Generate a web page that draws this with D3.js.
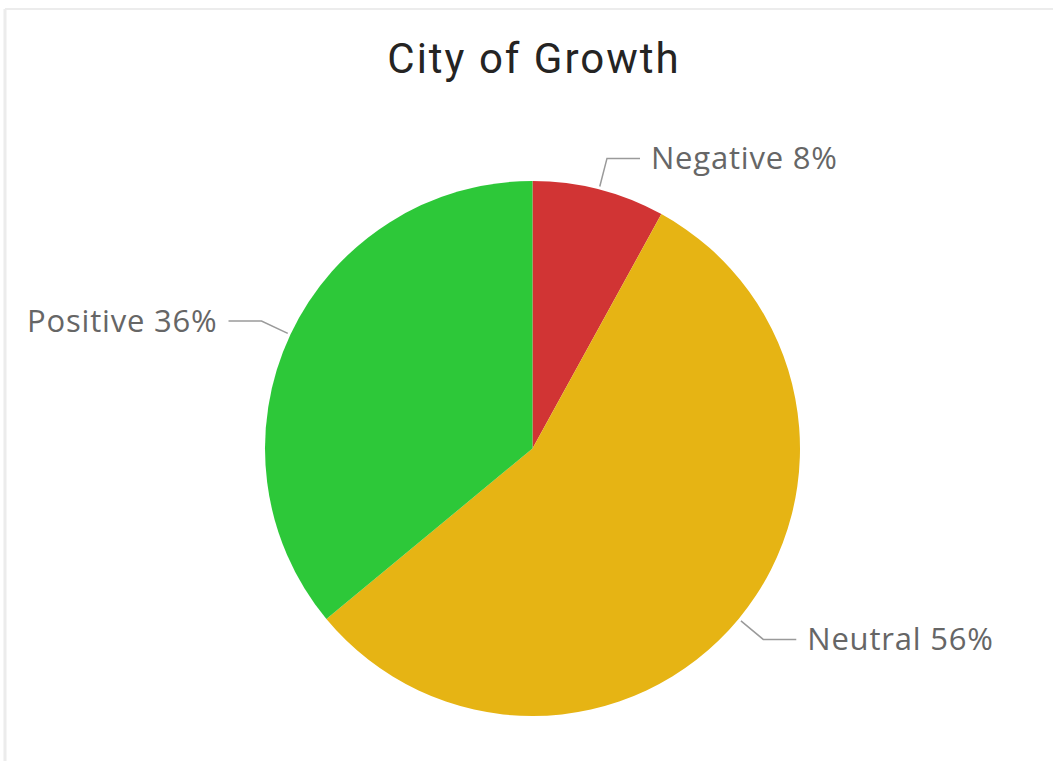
<!DOCTYPE html>
<html>
<head>
<meta charset="utf-8">
<script src="https://cdn.jsdelivr.net/npm/d3@7"></script>
<style>
  html, body { margin: 0; padding: 0; background: #ffffff; }
  svg { display: block; }
</style>
</head>
<body>
<svg id="chart" width="1053" height="761"></svg>
<script>
const title = "City of Growth";
const categories = ["Negative", "Neutral", "Positive"];
const values = [8, 56, 36];
const colors = ["#D13434", "#E6B414", "#2DC839"];

const svg = d3.select("#chart");
const W = 1053, H = 761;

// visual frame
svg.append("rect").attr("x", 0).attr("y", 0).attr("width", W).attr("height", H).attr("fill", "#ffffff");
svg.append("line").attr("x1", 5).attr("x2", W).attr("y1", 9).attr("y2", 9).attr("stroke", "#ececec").attr("stroke-width", 2);
svg.append("line").attr("x1", 5).attr("x2", 5).attr("y1", 9).attr("y2", H).attr("stroke", "#ececec").attr("stroke-width", 3);

svg.append("text")
  .attr("x", 534).attr("y", 73)
  .attr("text-anchor", "middle")
  .attr("font-family", "Roboto, 'DejaVu Sans', sans-serif")
  .attr("font-size", 42)
  .attr("letter-spacing", 2)
  .attr("fill", "#252423")
  .text(title);

const cx = 532.5, cy = 448.5, r = 267.5;
const data = categories.map((c, i) => ({ name: c, value: values[i], color: colors[i] }));
const pie = d3.pie().value(d => d.value).sort(null);
const arcs = pie(data);
const arc = d3.arc().innerRadius(0).outerRadius(r);

const g = svg.append("g").attr("transform", `translate(${cx},${cy})`);
g.selectAll("path.slice").data(arcs).join("path")
  .attr("class", "slice")
  .attr("d", arc)
  .attr("fill", d => d.data.color);

const total = d3.sum(values);
const elbowR = r + 32;
arcs.forEach(a => {
  const mid = (a.startAngle + a.endAngle) / 2;
  const sx = Math.sin(mid), sy = -Math.cos(mid);
  const p0 = [sx * (r + 3), sy * (r + 3)];
  const p1 = [sx * elbowR, sy * elbowR];
  const right = sx >= 0;
  const p2 = [p1[0] + (right ? 33 : -33), p1[1]];
  g.append("polyline")
    .attr("points", [p0, p1, p2].map(p => p.join(",")).join(" "))
    .attr("fill", "none")
    .attr("stroke", "#9a9a9a")
    .attr("stroke-width", 1.5);
  g.append("text")
    .attr("x", p2[0] + (right ? 11 : -11))
    .attr("y", p2[1])
    .attr("dy", "0.35em")
    .attr("text-anchor", right ? "start" : "end")
    .attr("font-family", "'Open Sans', 'Noto Sans', sans-serif")
    .attr("font-size", 31)
    .attr("letter-spacing", 0.8)
    .attr("fill", "#666666")
    .text(`${a.data.name} ${Math.round(a.data.value / total * 100)}%`);
});
</script>
</body>
</html>
